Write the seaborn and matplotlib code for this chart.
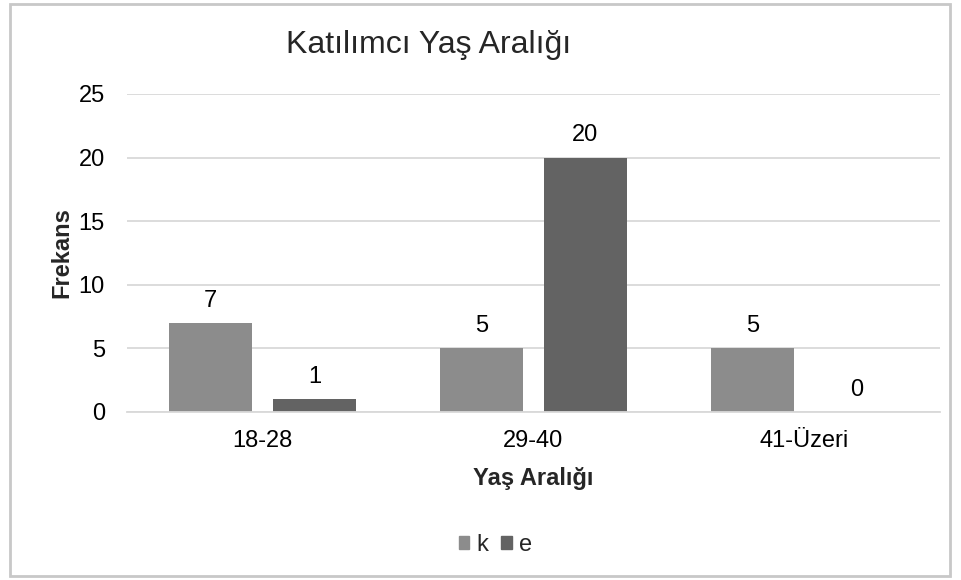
import matplotlib
matplotlib.use("Agg")
import matplotlib.pyplot as plt
import seaborn as sns
import pandas as pd
from matplotlib.patches import Rectangle

# data
categories = ["18-28", "29-40", "41-Üzeri"]
k_values = [7, 5, 5]
e_values = [1, 20, 0]
series = ["k", "e"]
colors = {"k": "#8c8c8c", "e": "#636363"}

df = pd.DataFrame({
    "Yaş Aralığı": categories * 2,
    "Frekans": k_values + e_values,
    "grup": ["k"] * len(categories) + ["e"] * len(categories),
})

sns.set_theme(style="white")
plt.rcParams["font.family"] = ["Liberation Sans", "DejaVu Sans"]

fig = plt.figure(figsize=(9.62, 5.8), dpi=100)
ax = fig.add_axes([0.132, 0.290, 0.845, 0.548])

sns.barplot(data=df, x="Yaş Aralığı", y="Frekans", hue="grup", hue_order=series,
            palette=colors, width=0.768, gap=0.2, saturation=1, linewidth=0,
            ax=ax, legend=False)

for cont in ax.containers:
    ax.bar_label(cont, fmt="%d", padding=8, fontsize=17, color="#000000")

ax.set_ylim(0, 25)
ax.set_xlim(-0.5, 2.5)
ax.set_yticks(range(0, 26, 5))
ax.yaxis.grid(True, color="#d9d9d9", linewidth=1.3)
ax.set_axisbelow(True)
for s in ["top", "right", "left"]:
    ax.spines[s].set_visible(False)
ax.spines["bottom"].set_color("#d9d9d9")
ax.spines["bottom"].set_linewidth(1.3)
ax.tick_params(axis="both", length=0, labelsize=17, colors="#000000")
ax.tick_params(axis="y", pad=16)
ax.tick_params(axis="x", pad=13)

ax.set_xlabel("Yaş Aralığı", fontsize=17, fontweight="bold", labelpad=11)
ax.set_ylabel("Frekans", fontsize=17, fontweight="bold", labelpad=4)

fig.text(0.445, 0.922, "Katılımcı Yaş Aralığı", fontsize=23, ha="center", va="center")

# legend below
handles = [Rectangle((0, 0), 1, 1, color=colors[s]) for s in series]
fig.legend(handles, series, loc="center", bbox_to_anchor=(0.515, 0.060), ncol=2,
           frameon=False, fontsize=17, handlelength=0.45, handleheight=0.45,
           handletextpad=0.3, columnspacing=0.55, borderpad=0)

# outer border
fig.patches.append(Rectangle((0.010, 0.007), 0.978, 0.986, transform=fig.transFigure,
                             fill=False, edgecolor="#c8c8c8", linewidth=2))

fig.savefig("out.png", dpi=100, facecolor="white")
